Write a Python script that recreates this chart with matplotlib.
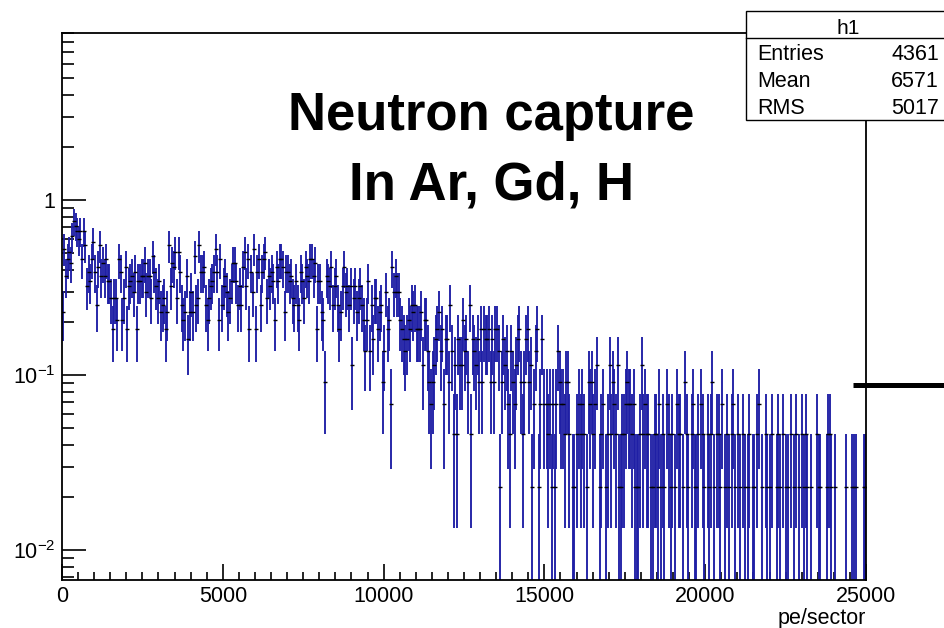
import numpy as np
import matplotlib
matplotlib.use("Agg")
import matplotlib.pyplot as plt
from matplotlib.patches import Rectangle
from matplotlib.ticker import FixedLocator, FixedFormatter, LogLocator, MultipleLocator, NullFormatter

plt.rcParams['font.family'] = ['Liberation Sans', 'DejaVu Sans']
plt.rcParams['mathtext.fontset'] = 'custom'
plt.rcParams['mathtext.rm'] = 'Liberation Sans'
plt.rcParams['mathtext.it'] = 'Liberation Sans:italic'
plt.rcParams['mathtext.bf'] = 'Liberation Sans:bold'

# histogram h1: 500 bins of 50 pe from 0 to 25000, raw counts per bin
n_bins = 500
x_min, x_max = 0, 25000
entries = 4361
mean_pe = 6571
rms_pe = 5017
counts = [
    10, 23, 16, 20, 22, 19, 27, 33, 31, 29,
    26, 29, 20, 29, 24, 14, 17, 15, 20, 25,
    17, 11, 18, 24, 16, 19, 16, 20, 15, 15,
    12, 8, 12, 12, 9, 20, 17, 9, 12, 18,
    8, 14, 15, 16, 13, 17, 8, 15, 15, 16,
    16, 19, 13, 16, 16, 12, 21, 17, 14, 12,
    15, 10, 11, 12, 8, 10, 24, 14, 19, 18,
    22, 12, 22, 17, 11, 9, 10, 16, 7, 10,
    13, 10, 21, 11, 12, 24, 17, 17, 18, 11,
    9, 12, 14, 15, 17, 23, 17, 9, 20, 11,
    14, 16, 13, 10, 12, 15, 19, 19, 15, 11,
    14, 11, 18, 22, 14, 20, 8, 17, 13, 23,
    8, 17, 20, 11, 17, 20, 22, 12, 16, 14,
    17, 15, 9, 18, 15, 20, 20, 18, 10, 17,
    17, 15, 16, 12, 11, 15, 11, 9, 17, 15,
    12, 18, 16, 15, 20, 20, 16, 19, 8, 15,
    15, 10, 9, 4, 16, 15, 14, 18, 11, 14,
    16, 11, 8, 10, 14, 18, 13, 14, 11, 14,
    5, 12, 14, 10, 12, 14, 11, 9, 6, 9,
    15, 6, 11, 7, 12, 12, 8, 10, 11, 4,
    6, 13, 8, 9, 3, 18, 13, 16, 13, 13,
    9, 8, 7, 6, 7, 9, 8, 11, 10, 11,
    8, 8, 8, 10, 5, 9, 9, 6, 4, 3,
    4, 5, 7, 8, 10, 6, 8, 3, 7, 7,
    4, 11, 6, 2, 5, 2, 7, 5, 5, 9,
    6, 7, 4, 11, 2, 7, 6, 5, 7, 4,
    8, 4, 8, 7, 7, 8, 4, 7, 4, 8,
    8, 6, 1, 4, 7, 5, 6, 3, 2, 6,
    4, 3, 5, 7, 8, 4, 2, 4, 7, 8,
    4, 5, 1, 3, 6, 8, 1, 3, 7, 3,
    0, 3, 2, 3, 1, 3, 1, 3, 6, 4,
    3, 3, 2, 4, 4, 2, 0, 1, 1, 0,
    2, 3, 2, 3, 2, 0, 1, 4, 3, 4,
    2, 3, 5, 0, 1, 2, 3, 0, 1, 2,
    5, 2, 4, 3, 2, 5, 1, 1, 2, 2,
    3, 4, 3, 3, 2, 3, 1, 1, 1, 2,
    5, 2, 3, 2, 2, 0, 1, 1, 2, 2,
    1, 3, 1, 2, 1, 0, 3, 2, 1, 2,
    0, 1, 3, 2, 2, 0, 1, 4, 2, 1,
    0, 2, 3, 1, 1, 2, 0, 3, 2, 1,
    0, 2, 1, 2, 4, 1, 0, 2, 2, 1,
    3, 0, 1, 2, 1, 0, 2, 3, 1, 0,
    2, 1, 0, 2, 1, 0, 1, 2, 0, 1,
    1, 0, 2, 3, 0, 1, 0, 2, 1, 0,
    1, 2, 0, 0, 1, 2, 1, 0, 2, 0,
    1, 1, 0, 2, 0, 1, 2, 0, 1, 0,
    2, 1, 2, 1, 0, 1, 0, 0, 0, 2,
    1, 1, 0, 0, 0, 1, 2, 2, 1, 0,
    1, 0, 0, 0, 0, 0, 0, 1, 0, 0,
    0, 1, 1, 1, 0, 0, 0, 0, 1, 1,
]
# second object's line sticking out past the frame on the right
side_line_x = [24600, 28500]
side_line_y = [0.088, 0.088]

y_lo, y_hi = 0.00675, 9.0
blue = '#1f1fa5'

counts = np.array(counts, dtype=float)
weight = 100.0 / entries          # scaled so the integral is 100
edges = np.linspace(x_min, x_max, n_bins + 1)
centers = 0.5 * (edges[:-1] + edges[1:])
vals = counts * weight
errs = np.sqrt(counts) * weight
nz = counts > 0
lo = vals - errs
lo = np.where(lo > 0, lo, y_lo * 0.5)
hi = vals + errs

W, H = 944, 628
fig = plt.figure(figsize=(W / 100, H / 100), dpi=100)
ax = fig.add_axes([62 / W, 1 - 580 / H, 804 / W, 547 / H])

ax.vlines(centers[nz], lo[nz], hi[nz], colors=blue, lw=1.35, zorder=2)
ax.plot(centers[nz], vals[nz], ls='none', marker='_', ms=2.4, mew=1.0,
        color='black', zorder=3)
ax.plot(side_line_x, side_line_y, color='black', lw=3.6, solid_capstyle='butt',
        clip_on=False, zorder=4)

ax.set_yscale('log')
ax.set_xlim(x_min, x_max)
ax.set_ylim(y_lo, y_hi)

ax.yaxis.set_major_locator(FixedLocator([0.01, 0.1, 1]))
ax.yaxis.set_major_formatter(FixedFormatter([r'$10^{-2}$', r'$10^{-1}$', '1']))
ax.yaxis.set_minor_locator(LogLocator(base=10, subs=np.arange(2, 10), numticks=20))
ax.yaxis.set_minor_formatter(NullFormatter())
ax.xaxis.set_major_locator(MultipleLocator(5000))
ax.xaxis.set_minor_locator(MultipleLocator(500))

ax.tick_params(axis='both', which='both', direction='in', top=False, right=False,
               labelsize=15.5, width=1.2, color='black')
ax.tick_params(axis='y', which='major', length=17.5, pad=5)
ax.tick_params(axis='y', which='minor', length=8.7)
ax.tick_params(axis='x', which='major', length=11.5, pad=4)
ax.tick_params(axis='x', which='minor', length=5.8)
for s in ax.spines.values():
    s.set_linewidth(1.3)

ax.set_xlabel('pe/sector', fontsize=15.5, ha='right')
ax.xaxis.set_label_coords(1.0, -0.052)

# title text
fig.text(491.5 / W, 1 - 130 / H, 'Neutron capture', ha='center', va='baseline',
         fontsize=38, fontweight='bold')
fig.text(491.5 / W, 1 - 199 / H, 'In Ar, Gd, H', ha='center', va='baseline',
         fontsize=38, fontweight='bold')

# statistics box
bx0, by_top, by_bot, by_head = 746, 11, 119.5, 37.5
fig.add_artist(Rectangle((bx0 / W, 1 - by_bot / H), (W + 20 - bx0) / W,
                         (by_bot - by_top) / H, transform=fig.transFigure,
                         facecolor='white', edgecolor='black', lw=1.0,
                         clip_on=False, zorder=10))
fig.add_artist(plt.Line2D([bx0 / W, 1.02], [1 - by_head / H] * 2,
                          transform=fig.transFigure, color='black', lw=1.0,
                          zorder=11))
fig.text(848 / W, 1 - 34 / H, 'h1', ha='center', va='baseline', fontsize=15, zorder=12)
rows = [('Entries', entries), ('Mean', mean_pe), ('RMS', rms_pe)]
for i, (name, v) in enumerate(rows):
    yb = 1 - (60 + 27 * i) / H
    fig.text(757 / W, yb, name, ha='left', va='baseline', fontsize=15.5, zorder=12)
    fig.text(939 / W, yb, str(v), ha='right', va='baseline', fontsize=15.5, zorder=12)

fig.savefig('out.png', dpi=100)
